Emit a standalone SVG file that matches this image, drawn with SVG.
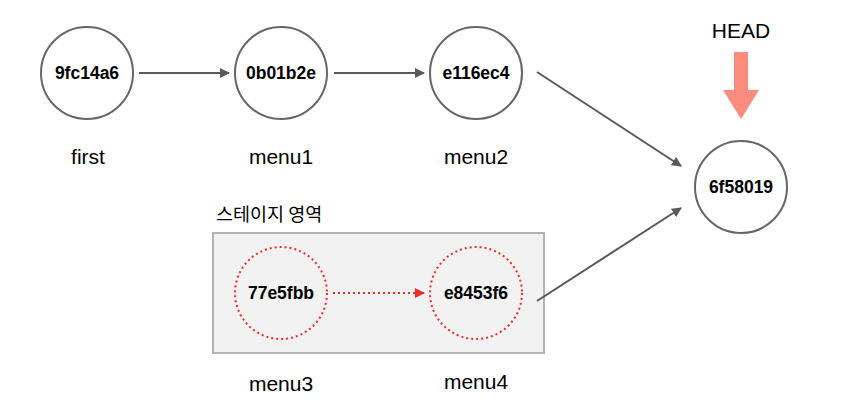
<svg xmlns="http://www.w3.org/2000/svg" width="849" height="420" viewBox="0 0 849 420">
<style>
.node{fill:#fff;stroke:#666;stroke-width:2}
.dot{fill:none;stroke:#ee2b25;stroke-width:2;stroke-dasharray:2 3}
.hash{font-family:"Liberation Sans",Arial,sans-serif;font-size:17.5px;font-weight:bold;fill:#000;text-anchor:middle;dominant-baseline:central}
.lbl{font-family:"Liberation Sans",Arial,sans-serif;font-size:21px;fill:#000;text-anchor:middle;dominant-baseline:central}
.edge{stroke:#595959;stroke-width:2;fill:none}
</style>
<defs>
<marker id="ah" viewBox="0 0 10 10" refX="9" refY="5" markerWidth="5" markerHeight="5" orient="auto" markerUnits="strokeWidth"><path d="M0,0 L10,5 L0,10 z" fill="#595959"/></marker>
<marker id="ahr" viewBox="0 0 10 10" refX="9" refY="5" markerWidth="5" markerHeight="5" orient="auto" markerUnits="strokeWidth"><path d="M0,0 L10,5 L0,10 z" fill="#ee2b25"/></marker>
</defs>
<rect x="213" y="233" width="331" height="120" fill="#f2f2f2" stroke="#b3b3b3" stroke-width="2"/>
<text x="216" y="213" font-family="'Noto Sans CJK KR','Liberation Sans',sans-serif" font-size="18.5" dominant-baseline="central">스테이지 영역</text>
<g id="connectors">
<line class="edge" x1="139" y1="73" x2="229" y2="73" marker-end="url(#ah)"/>
<line class="edge" x1="334" y1="73" x2="424" y2="73" marker-end="url(#ah)"/>
<line class="edge" x1="537" y1="72" x2="681" y2="166" marker-end="url(#ah)"/>
<line class="edge" x1="537" y1="301" x2="681" y2="208" marker-end="url(#ah)"/>
<line x1="333" y1="293" x2="424" y2="293" stroke="#ee2b25" stroke-width="2" stroke-dasharray="2 3" marker-end="url(#ahr)"/>
</g>
<g id="n1"><circle class="node" cx="87" cy="73" r="46"/><text class="hash" x="87" y="73">9fc14a6</text><text class="lbl" x="88" y="156">first</text></g>
<g id="n2"><circle class="node" cx="281" cy="73" r="46"/><text class="hash" x="281" y="73">0b01b2e</text><text class="lbl" x="281" y="156">menu1</text></g>
<g id="n3"><circle class="node" cx="476" cy="73" r="46"/><text class="hash" x="476" y="73">e116ec4</text><text class="lbl" x="476" y="156">menu2</text></g>
<g id="n4"><circle class="node" cx="741" cy="187" r="46"/><text class="hash" x="741" y="187">6f58019</text></g>
<g id="n5"><circle class="dot" cx="281" cy="293" r="46"/><text class="hash" x="281" y="293">77e5fbb</text><text class="lbl" x="281" y="383">menu3</text></g>
<g id="n6"><circle class="dot" cx="476" cy="293" r="46"/><text class="hash" x="476" y="293">e8453f6</text><text class="lbl" x="476" y="381">menu4</text></g>
<g id="head"><text class="lbl" x="741" y="30">HEAD</text><path d="M734,52 L748,52 L748,90 L759,90 L741,119 L723,90 L734,90 z" fill="#fa8c7e"/></g>
</svg>
